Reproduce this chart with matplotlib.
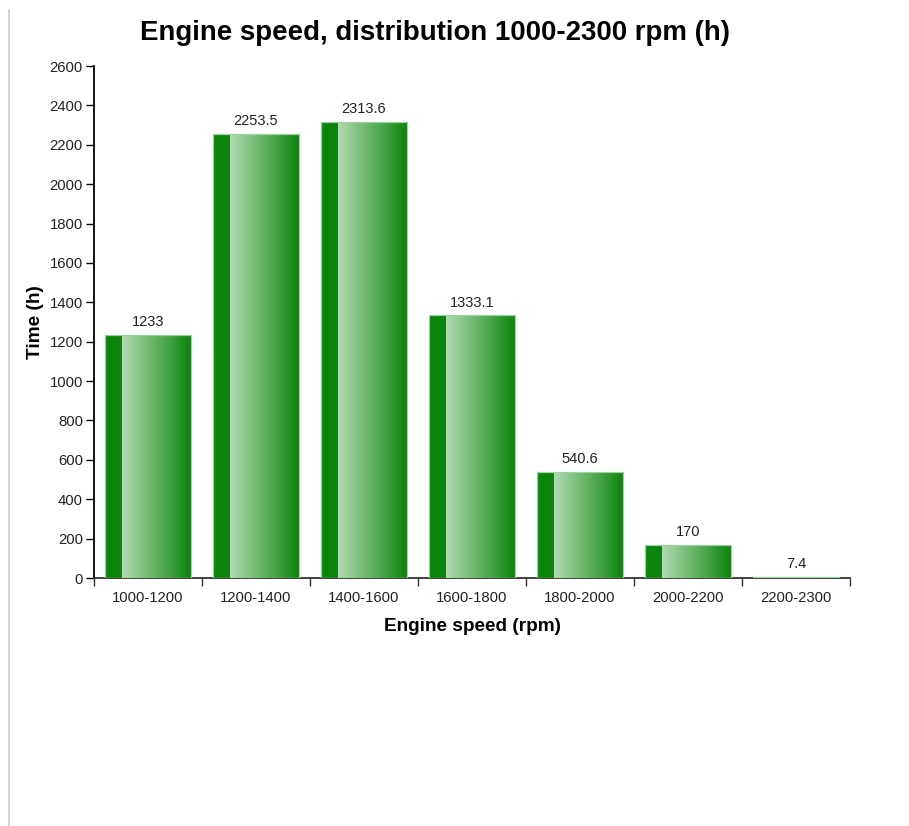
import numpy as np
import matplotlib.pyplot as plt
from matplotlib.colors import LinearSegmentedColormap

plt.rcParams['font.family'] = ['Liberation Sans', 'DejaVu Sans']

# data
categories = ['1000-1200', '1200-1400', '1400-1600', '1600-1800',
              '1800-2000', '2000-2200', '2200-2300']
hours = [1233, 2253.5, 2313.6, 1333.1, 540.6, 170, 7.4]
labels = ['1233', '2253.5', '2313.6', '1333.1', '540.6', '170', '7.4']

dark = '#0a840a'
# dark strip on the left 20%, then light -> dark gradient
grad = LinearSegmentedColormap.from_list(
    'g', [(0, dark), (0.199, dark), (0.2, '#b0d9b0'), (0.6, '#5fb05f'), (1, dark)])

fig = plt.figure(figsize=(9.09, 8.26), dpi=100)
ax = fig.add_axes([94 / 909, 1 - 578 / 826, (850 - 94) / 909, (578 - 66) / 826])

x = np.arange(len(categories))
bars = ax.bar(x, hours, width=0.8, color=dark, linewidth=0, zorder=2)
# light outline on top of the gradient
ax.bar(x, hours, width=0.8, fill=False, edgecolor='#9fd09f', linewidth=0.9, zorder=4)

g = np.linspace(0, 1, 512).reshape(1, -1)
for b, lab in zip(bars, labels):
    x0, w, h = b.get_x(), b.get_width(), b.get_height()
    im = ax.imshow(g, cmap=grad, aspect='auto', interpolation='nearest',
                   extent=[x0, x0 + w, 0, max(h, 30)], zorder=3)
    im.set_clip_path(b)
    ax.text(x0 + w / 2, h + 30, lab, ha='center', va='bottom',
            fontsize=10.5, color='#222222', zorder=5)

ax.set_xlim(-0.5, len(categories) - 0.5)
ax.set_ylim(0, 2600)
ax.set_yticks(np.arange(0, 2601, 200))
ax.set_xticks(x)
ax.set_xticklabels(categories)
ax.set_xticks(np.arange(-0.5, len(categories)), minor=True)
ax.tick_params(axis='x', which='major', length=0, pad=9, labelsize=10.7, labelcolor='#222222')
ax.tick_params(axis='x', which='minor', length=6, width=1, color='#333333')
ax.tick_params(axis='y', length=6, width=1, labelsize=10.7, labelcolor='#222222', pad=2)

for s in ['top', 'right']:
    ax.spines[s].set_visible(False)
ax.spines['left'].set_linewidth(1.3)
ax.spines['bottom'].set_linewidth(1.3)
ax.spines['bottom'].set_color('#333333')

ax.set_xlabel('Engine speed (rpm)', fontsize=13.7, fontweight='bold', labelpad=10)
ax.set_ylabel('Time (h)', fontsize=13.7, fontweight='bold', labelpad=4)
fig.text(435 / 909, 1 - 33 / 826, 'Engine speed, distribution 1000-2300 rpm (h)',
         ha='center', va='center', fontsize=19.9, fontweight='bold')

fig.add_artist(plt.Line2D([8.5 / 909, 8.5 / 909], [0, 1 - 10 / 826],
                          transform=fig.transFigure, color='#cccccc', lw=1.2))

fig.savefig('out.png', dpi=100)
